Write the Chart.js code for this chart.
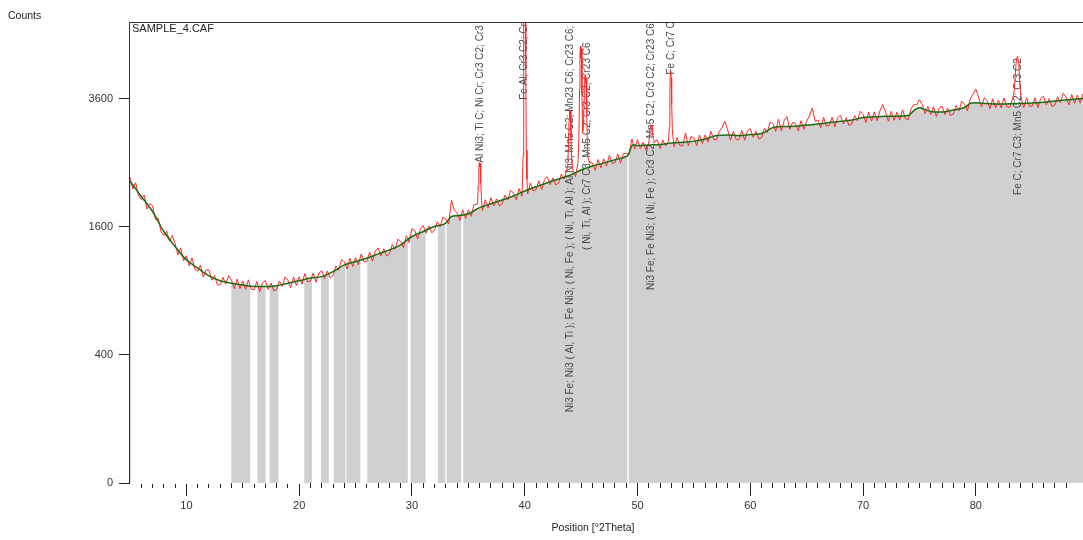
<!DOCTYPE html>
<html><head><meta charset="utf-8">
<script src="https://cdn.jsdelivr.net/npm/chart.js@4.4.1/dist/chart.umd.min.js"></script>
<style>html,body{margin:0;padding:0;background:#fff;overflow:hidden}</style>
</head><body>
<canvas id="c" width="1083" height="540"></canvas>
<script>
// ---------- data (counts) ----------
const xMin = 5, xMax = 89.5, yMax = 5184;
const yTickValues = [0, 400, 1600, 3600];

// measured pattern on a 0.25° grid starting at 5° (null = covered by peak points)
const obsStart = 5, obsStep = 0.25;
const obsCounts = [
 2281,2108,2200,2014, 1961,2022,1830,1905, 1877,1694,1710,1541, 1494,1547,1429,1495,
 1399,1269,1348,1206, 1259,1149,1236,1115, 1094,1159,1033,1108, 1107,1004,1052,958,
 957,1031,966,1049, 1003,921,1015,922, 996,914,1007,916, 912,989,893,979,
 999,914,975,900, 911,995,943,1036, 1003,931,1035,952, 1037,964,1070,987,
 994,1078,982,1075, 1100,1021,1096,1026, 1048,1150,1105,1216, 1193,1116,1233,1144,
 1240,1161,1280,1191, 1200,1301,1201,1313, 1349,1258,1338,1258, 1280,1387,1332,1451,
 1419,1350,1492,1411, 1579,1558,1452,1576, 1617,1522,1611,1528, 1555,1666,1602,1725,
 1699,1638,1950,1817, 1781,1682,1821,1709, 1821,1735,1887,null, null,1810,1957,1848,
 1984,1874,1969,1873, 1899,2023,1954,2092, 2051,1957,2115,2006, null,2038,2196,2082,
 2096,2228,2097,2243, 2288,2170,2272,2167, 2195,2329,2253,null, null,2405,2290,null,
 null,null,null,2497, 2497,2384,2553,2425, 2563,2449,2619,2490, 2503,2641,2496,2650,
 2648,2632,2886,2720, 2876,2730,2833,2702, null,null,null,2873, 2727,2866,2773,null,
 null,2757,2910,2782, 2767,2988,2775,2930, 2901,2776,2954,2812, 2956,2834,3017,2879,
 2876,3014,3084,3190, 3038,2866,3016,2878, 2876,3033,2867,3025, 3063,2914,3021,2889,
 2909,3073,2996,3175, 3151,3016,3229,3025, 3203,3275,3049,3171, 3156,3020,3202,3049,
 3195,3287,3430,3191, 3212,3079,3262,3109, 3116,3264,3092,3257, 3298,3144,3255,3119,
 3142,3295,3199,3371, 3311,3170,3354,3195, 3360,3201,3383,3493, 3353,3191,3371,3209,
 3353,3212,3394,3236, 3221,3410,3493,3486, 3582,3492,3328,3458, 3311,3454,3270,3431,
 3465,3310,3429,3293, 3320,3478,3379,3556, 3495,3377,3593,3690, 3785,3618,3450,3620,
 3568,3417,3600,3431, 3577,3430,3617,3451, 3434,3600,null,null, null,3437,3623,3458,
 3466,3619,3437,3607, 3649,3486,3604,3460, 3483,3638,3531,3704, 3634,3488,3681,3516,
 3671,3525,3699
];

// reflections (finer sampling across the peaks)
const peakPos = [35.82,35.88,35.93,35.97,36.01,36.05,36.1,36.17,
 39.8,39.85,39.89,39.93,39.97,40.01,40.05,40.09,40.14,40.2,
 43.82,43.88,43.93,43.97,44.01,44.05,44.1,44.17,
 44.72,44.8,44.86,44.9,44.94,44.98,45.02,45.07,45.13,45.2,45.27,45.32,45.36,45.4,45.45,45.5,45.58,
 51.0,51.06,51.12,51.17,51.22,51.27,51.33,51.4,51.5,
 52.75,52.82,52.87,52.91,52.95,52.99,53.03,53.09,53.16,
 83.4,83.5,83.6,83.7,83.8,83.9,84.0,84.1];
const peakCounts = [1900,2150,2420,2500,2440,2490,2200,1950,
 2200,2600,4000,6500,7500,7200,6800,4200,2700,2250,
 2450,2800,3200,3400,3250,3380,2900,2550,
 2500,2900,3800,4500,4650,4400,4600,3700,3000,3100,3600,4000,4070,3900,4000,3300,2600,
 2800,2950,3080,3130,3050,3120,2980,2900,2840,
 2850,3100,3700,4100,4137,4000,3500,3050,2880,
 3750,4100,4380,4445,4300,3900,3650,3540];

// background curve
const bgPos = [5,6,7,8,9,10,11,12,13,14,15,16,17,18,19,20,21,22,23,24,25,26,27,28,29,30,31,32,33,33.5,
 34,35,36,37,38,39,40,41,42,43,44,45,46,47,48,49,49.15,49.6,
 50,51,52,53,54,55,56,57,58,59,60,61,62,63,64,65,66,67,68,69,70,71,72,73,74,74.6,75,75.5,
 76,77,78,79,79.6,80,81,82,83,84,85,86,87,88,89,89.5];
const bgCounts = [2222,2003,1798,1543,1364,1215,1126,1046,997,974,957,941,941,950,974,997,1024,1039,1090,1161,1196,1233,1281,1326,1384,1482,1543,1605,1648,1733,
 1742,1768,1849,1902,1954,2009,2080,2140,2200,2255,2310,2390,2450,2500,2550,2600,2620,2790,
 2777,2788,2793,2820,2834,2851,2888,2944,2953,2944,2961,2978,3081,3099,3103,3125,3142,3169,3192,3213,3257,3270,3281,3281,3293,3402,3434,3402,
 3366,3356,3393,3439,3522,3525,3512,3503,3508,3512,3522,3537,3558,3578,3596,3605];

// ranges (°2Theta) where the background area is shaded
const grayFrom = [13.98,16.29,17.38,20.45,21.92,23.08,24.20,26.04,29.88,32.30,33.07,34.55,49.22];
const grayTo   = [15.66,17.02,18.17,21.13,22.63,24.11,25.42,29.64,31.21,32.95,34.37,49.10,89.5];

// phase labels
const labelPos  = [36.0, 39.97, 44.02, 45.55, 51.23, 52.94, 83.73];
const labelBase = [2503, 3583, 122, 1325, 909, 4070, 2025];
const labelText = [
 'Al Ni3; Ti C; Ni Cr; Cr3 C2; Cr3 C2',
 'Fe Al; Cr3 C2; Cr3 C2',
 'Ni3 Fe; Ni3 ( Al, Ti ); Fe Ni3; ( Ni, Fe ); ( Ni, Ti, Al ); Al Ni3; Mn5 C2; Mn23 C6; Cr23 C6; Cr3 C2',
 '( Ni, Ti, Al ); Cr7 C3; Mn5 C2; Cr3 C2; Cr23 C6',
 'Ni3 Fe; Fe Ni3; ( Ni, Fe ); Cr3 C2; Mn5 C2; Cr3 C2; Cr23 C6',
 'Fe C; Cr7 C3',
 'Fe C; Cr7 C3; Mn5 C2; Cr3 C2'
];

// ---------- square-root intensity scale ----------
class SqrtScale extends Chart.LinearScale {
  getPixelForValue(value) {
    const a = Math.sqrt(Math.max(0, this.min)), b = Math.sqrt(this.max);
    return this.getPixelForDecimal((Math.sqrt(Math.max(0, value)) - a) / (b - a));
  }
  getValueForPixel(pixel) {
    const a = Math.sqrt(Math.max(0, this.min)), b = Math.sqrt(this.max);
    const s = a + this.getDecimalForPixel(pixel) * (b - a);
    return s * s;
  }
}
SqrtScale.id = 'sqrt';
SqrtScale.defaults = {};
Chart.register(SqrtScale);

// ---------- build datasets ----------
const obsData = obsCounts
  .map((c, i) => c === null ? null : {x: obsStart + i * obsStep, y: c})
  .filter(p => p !== null)
  .concat(peakPos.map((x, i) => ({x, y: peakCounts[i]})))
  .sort((a, b) => a.x - b.x);
const bgData = bgPos.map((x, i) => ({x, y: bgCounts[i]}));

const gaps = [[xMin, grayFrom[0]]];
for (let i = 0; i < grayFrom.length - 1; i++) gaps.push([grayTo[i], grayFrom[i + 1]]);

const FONT = '"Liberation Sans", Arial, sans-serif';

const decoPlugin = {
  id: 'deco',
  afterDatasetDraw(chart, args) {
    if (args.index !== 2) return;
    const {ctx, chartArea: a, scales: {x, y}} = chart;
    ctx.save();
    ctx.fillStyle = '#ffffff';
    gaps.forEach(([s, e]) => {
      const x0 = Math.max(x.getPixelForValue(s), a.left + 1);
      const x1 = x.getPixelForValue(e);
      ctx.fillRect(x0, a.top + 1, x1 - x0, a.bottom - a.top);
    });
    // phase labels (under the measured trace)
    ctx.beginPath();
    ctx.rect(a.left, a.top + 1, a.right - a.left, a.bottom - a.top);
    ctx.clip();
    ctx.fillStyle = '#4a4a4a';
    ctx.font = '10px ' + FONT;
    ctx.textAlign = 'left';
    ctx.textBaseline = 'middle';
    labelPos.forEach((p, i) => {
      ctx.save();
      ctx.translate(Math.round(x.getPixelForValue(p)) + 0.5, y.getPixelForValue(labelBase[i]));
      ctx.rotate(-Math.PI / 2);
      ctx.fillText(labelText[i], 0, 0);
      ctx.restore();
    });
    ctx.restore();
  },
  afterDraw(chart) {
    const {ctx, chartArea: a} = chart;
    ctx.save();
    // crisp frame lines (left and top)
    ctx.fillStyle = '#333';
    ctx.fillRect(Math.round(a.left) - 1, Math.round(a.top), 1, Math.round(a.bottom - a.top) + 1);
    ctx.fillRect(Math.round(a.left) - 1, Math.round(a.top), Math.round(a.right - a.left) + 1, 1);
    ctx.fillStyle = '#222';
    ctx.font = '10.5px ' + FONT;
    ctx.textBaseline = 'middle';
    ctx.textAlign = 'left';
    ctx.fillText('Counts', 8, 16);
    ctx.font = '11px ' + FONT;
    ctx.fillText('SAMPLE_4.CAF', a.left + 2, a.top + 7);
    ctx.textAlign = 'center';
    ctx.font = '10.5px ' + FONT;
    ctx.fillText('Position [°2Theta]', 593, 528);
    ctx.restore();
  }
};

new Chart(document.getElementById('c'), {
  type: 'line',
  data: {
    datasets: [
      { label: 'Background', data: bgData, borderColor: '#1d6b12', borderWidth: 1.5,
        pointRadius: 0, fill: false, cubicInterpolationMode: 'monotone', order: 1 },
      { label: 'Measured', data: obsData, borderColor: 'rgb(255,40,40)', borderWidth: 1,
        pointRadius: 0, fill: false, tension: 0, order: 2 },
      { label: 'Area', data: bgData, borderColor: 'rgba(0,0,0,0)', borderWidth: 0,
        backgroundColor: '#d0d0d0', pointRadius: 0, fill: 'origin',
        cubicInterpolationMode: 'monotone', order: 3 }
    ]
  },
  options: {
    responsive: false,
    devicePixelRatio: 1,
    animation: false,
    events: [],
    layout: { padding: { left: 0, right: 0, top: 22, bottom: 0 } },
    plugins: { legend: { display: false }, tooltip: { enabled: false } },
    scales: {
      x: {
        type: 'linear', position: 'bottom', min: xMin, max: xMax,
        afterFit: s => { s.height = 57; },
        afterBuildTicks: s => { s.ticks = s.ticks.filter(t => Number.isInteger(t.value) && t.value > xMin); },
        border: { display: false },
        grid: { display: true, drawOnChartArea: false, drawTicks: true, tickLength: 13,
                tickColor: '#202020', tickWidth: 1,
                tickBorderDash: c => (c.tick && c.tick.value % 10 === 0) ? [] : [5, 30] },
        ticks: { stepSize: 1, autoSkip: false, maxRotation: 0, padding: 3,
                 color: '#333', font: { family: FONT, size: 11 },
                 callback: v => v % 10 === 0 ? String(v) : '' }
      },
      x2: {
        type: 'linear', position: 'top', min: xMin, max: xMax,
        afterFit: s => { s.height = 0; },
        border: { display: false },
        grid: { display: false, drawTicks: false },
        ticks: { display: false }
      },
      y: {
        type: 'sqrt', position: 'left', min: 0, max: yMax,
        afterFit: s => { s.width = 130; },
        afterBuildTicks: s => { s.ticks = yTickValues.map(v => ({value: v})); },
        border: { display: false },
        grid: { display: true, drawOnChartArea: false, drawTicks: true, tickLength: 11,
                tickColor: '#202020' },
        ticks: { padding: 6, color: '#333', font: { family: FONT, size: 11 },
                 callback: v => String(v) }
      }
    }
  },
  plugins: [decoPlugin]
});
</script>
</body></html>
